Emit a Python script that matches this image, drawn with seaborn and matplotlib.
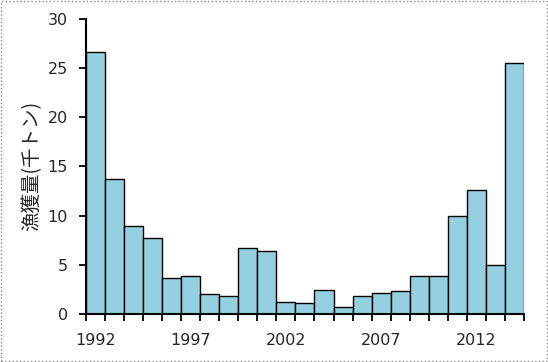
import seaborn as sns
import matplotlib.pyplot as plt
import numpy as np
import pandas as pd
from matplotlib.patches import Rectangle

# catch per year (thousand tonnes)
years = list(range(1992, 2015))
catch = [26.6, 13.7, 8.9, 7.7, 3.6, 3.8, 2.0, 1.8, 6.7, 6.4,
         1.2, 1.1, 2.4, 0.7, 1.8, 2.1, 2.3, 3.8, 3.9, 9.9,
         12.6, 5.0, 25.5]
label_years = [1992, 1997, 2002, 2007, 2012]

df = pd.DataFrame({'year': years, 'catch': catch})

sns.set_style('white')
plt.rcParams['font.family'] = ['Noto Sans CJK JP', 'DejaVu Sans']

fig = plt.figure(figsize=(5.48, 3.62), dpi=100)
ax = fig.add_axes([0.157, 0.133, 0.799, 0.815])

sns.barplot(data=df, x='year', y='catch', color='#94D0DF', saturation=1,
            width=1.0, edgecolor='black', linewidth=1.0, ax=ax)

# ticks at bar boundaries, labels every five years
n = len(years)
ax.set_xlim(-0.5, n - 0.5)
ax.set_xticks(np.arange(-0.5, n, 1.0), minor=True)
ax.set_xticks([years.index(y) for y in label_years])
ax.set_xticklabels([str(y) for y in label_years], fontsize=11.5,
                   family=['DejaVu Sans'])
ax.tick_params(axis='x', which='major', length=0, pad=14)
ax.tick_params(axis='x', which='minor', length=5, width=1.3, direction='out',
               color='black', bottom=True)

ax.set_ylim(0, 30)
ax.set_yticks(range(0, 31, 5))
ax.set_yticklabels([str(v) for v in range(0, 31, 5)], fontsize=11.5,
                   family=['DejaVu Sans'])
ax.tick_params(axis='y', length=5, width=1.3, direction='out', color='black',
               left=True, pad=8)

ax.set_xlabel('')
ax.set_ylabel('漁獲量(千トン)', fontsize=14, labelpad=4)

sns.despine(ax=ax)
for s in ['left', 'bottom']:
    ax.spines[s].set_color('black')
    ax.spines[s].set_linewidth(1.5)

# dotted grey frame around the picture
fig.patches.append(Rectangle((0.001, 0.002), 0.997, 0.995, transform=fig.transFigure,
                             fill=False, edgecolor='#888888', linewidth=1,
                             linestyle=':'))

fig.savefig('out.png', dpi=100)
